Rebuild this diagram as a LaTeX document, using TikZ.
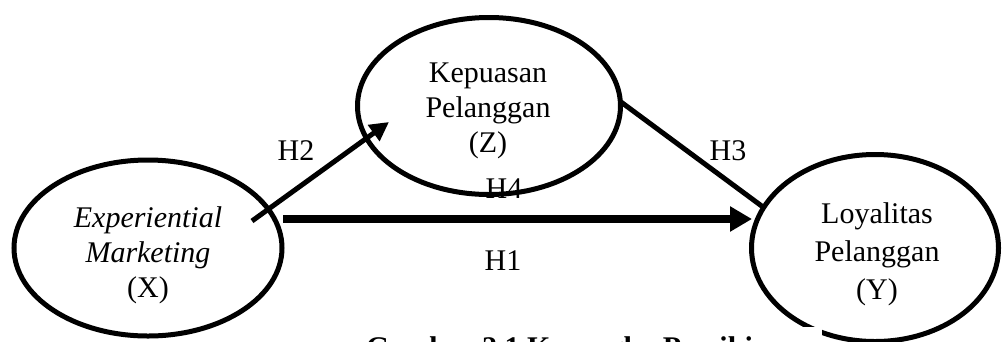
\documentclass[tikz,border=0pt]{standalone}
\usepackage{fontspec}
\setmainfont{Liberation Serif}
\usetikzlibrary{shapes.geometric,arrows.meta}

\tikzset{
  construct/.style={ellipse, draw, line width=5pt, inner sep=0pt},
  construct text/.style={align=center, inner sep=0pt,
    font=\fontsize{30}{35}\selectfont},
  hlabel/.style={anchor=base, inner sep=0pt, font=\fontsize{30}{36}\selectfont},
  path arrow/.style={line width=5pt, -{Triangle[length=19pt,width=19pt]}},
  main arrow/.style={line width=8pt, -{Triangle[length=22pt,width=24pt]}},
  plain link/.style={line width=5pt},
  caption/.style={anchor=base, fill=white, inner xsep=24pt, inner ysep=9pt,
    font=\fontsize{30}{36}\selectfont\bfseries}
}

\begin{document}
\begin{tikzpicture}[x=1pt,y=-1pt]
  \useasboundingbox (0,0) rectangle (1003,341);
  \clip (0,0) rectangle (1003,341);

  % hypothesis label sitting under the lower rim of Z
  \node[hlabel] (h4) at (504,198) {H4};

  % constructs
  \node[construct, minimum width=268pt, minimum height=176pt] (X) at (148,248) {};
  \node[construct, minimum width=263pt, minimum height=177pt] (Z) at (489,106) {};
  \node[construct, minimum width=247pt, minimum height=187pt] (Y) at (875,248) {};

  \node[construct text] (Xt) at (148,255)
    {\textit{Experiential}\\\textit{Marketing}\\(X)};
  \node[construct text] (Zt) at (488,111) {Kepuasan\\Pelanggan\\(Z)};
  \node[construct text, font=\fontsize{30}{38}\selectfont] (Yt) at (877,254)
    {Loyalitas\\Pelanggan\\(Y)};

  % end points of the paths
  \coordinate (h2s) at (252,221);
  \coordinate (h2e) at (389,122);
  \coordinate (h3s) at (621,102);
  \coordinate (h3e) at (763,207);
  \coordinate (h1s) at (283,219);
  \coordinate (h1e) at (752,219);

  \draw[path arrow] (h2s) -- (h2e);
  \draw[plain link] (h3s) -- (h3e);
  \draw[main arrow] (h1s) -- (h1e);

  % remaining hypothesis labels
  \node[hlabel] (h2) at (296,160) {H2};
  \node[hlabel] (h3) at (728,160) {H3};
  \node[hlabel] (h1) at (503,270) {H1};

  % figure caption
  \node[caption] (cap) at (582,357) {Gambar 2.1 Kerangka Pemikiran};
\end{tikzpicture}
\end{document}
